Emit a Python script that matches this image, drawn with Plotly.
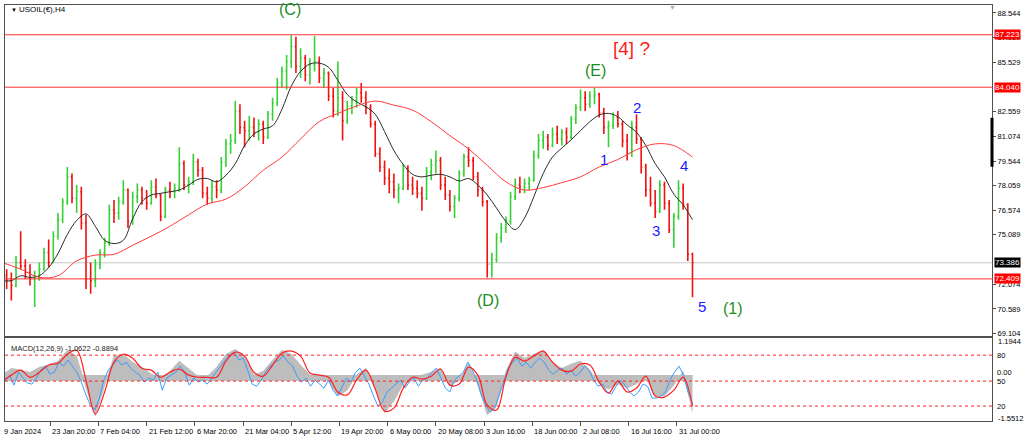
import numpy as np
import plotly.graph_objects as go

# ---------------- DATA ----------------
# daily bars, index 1..148 (trading-day index, 9 Jan 2024 = 0)
highs = [73.0, 72.8, 73.8, 75.3, 73.6, 73.3, 72.9, 73.4, 74.3, 74.8,
         75.3, 76.4, 77.3, 79.2, 78.8, 78.1, 78.0, 76.3, 73.4, 73.6,
         74.2, 74.9, 76.9, 77.2, 77.4, 78.4, 77.9, 77.7, 78.2, 78.0,
         77.8, 78.4, 78.5, 77.6, 78.0, 78.3, 78.2, 80.4, 79.6, 78.6,
         80.0, 79.7, 79.2, 78.0, 78.4, 78.4, 79.8, 80.9, 81.2, 83.2,
         83.0, 82.0, 82.3, 82.2, 82.1, 82.0, 82.6, 83.4, 84.6, 85.3,
         86.0, 87.2, 87.1, 86.4, 86.0, 85.8, 87.15, 85.9, 85.2, 85.0,
         84.0, 85.6, 83.8, 83.2, 83.5, 84.0, 84.3, 83.8, 83.0, 82.0,
         80.4, 79.6, 79.1, 78.8, 78.2, 79.4, 79.3, 78.6, 78.4, 78.0,
         79.2, 79.7, 80.2, 79.8, 78.6, 77.8, 77.5, 79.0, 80.0, 80.4,
         79.8, 78.9, 78.0, 77.2, 74.0, 75.2, 75.8, 76.2, 77.7, 78.5,
         78.6, 78.5, 78.6, 80.2, 81.2, 81.4, 81.2, 81.6, 81.7, 81.5,
         81.6, 82.3, 83.0, 83.9, 83.8, 83.8, 84.0, 83.7, 82.8, 82.0,
         82.5, 82.6, 82.0, 81.2, 82.0, 82.4, 81.0, 79.4, 78.6, 77.8,
         78.4, 78.3, 77.2, 76.4, 78.4, 78.2, 77.0, 74.0]
lows = [71.8, 71.1, 71.9, 73.0, 72.4, 72.0, 70.7, 72.3, 72.9, 73.1,
        73.4, 74.8, 75.8, 76.9, 77.0, 76.4, 75.4, 71.8, 71.5, 71.9,
        73.0, 73.7, 74.4, 75.8, 76.0, 76.9, 75.5, 75.7, 77.0, 76.9,
        76.6, 76.9, 77.3, 75.9, 76.1, 77.3, 77.3, 77.7, 77.8, 77.6,
        78.1, 78.6, 77.3, 76.9, 77.0, 77.3, 77.6, 79.2, 80.0, 80.6,
        81.2, 80.4, 80.8, 81.0, 80.8, 80.6, 80.9, 82.0, 82.9, 84.0,
        83.9, 85.2, 84.9, 84.6, 84.4, 84.2, 85.0, 84.3, 84.0, 83.2,
        82.2, 82.3, 80.8, 81.8, 82.4, 82.8, 83.1, 82.4, 81.6, 79.8,
        78.9, 78.1, 77.6, 77.3, 77.0, 77.8, 77.8, 77.5, 77.3, 76.55,
        77.2, 78.4, 78.8, 77.8, 77.2, 76.5, 76.1, 77.1, 78.6, 79.2,
        78.4, 77.4, 76.8, 72.5, 72.5, 73.4, 74.6, 75.2, 75.7, 77.2,
        77.6, 77.6, 77.8, 78.3, 79.7, 80.3, 80.2, 80.4, 80.6, 80.5,
        80.6, 80.9, 81.8, 82.6, 82.6, 82.8, 83.0, 82.2, 81.2, 80.4,
        81.5, 81.6, 80.4, 79.6, 79.8, 80.6, 78.8, 77.4, 76.8, 76.1,
        76.4, 76.6, 75.2, 74.3, 76.0, 76.6, 73.5, 71.3]
closes = [72.3, 72.0, 73.4, 73.2, 72.8, 72.4, 72.6, 73.0, 74.0, 73.4,
          75.0, 76.0, 77.1, 78.6, 77.3, 77.7, 75.8, 72.4, 72.3, 73.3,
          74.0, 74.6, 76.6, 76.4, 77.1, 77.8, 75.9, 77.4, 77.8, 77.3,
          77.0, 78.0, 77.5, 76.2, 77.8, 77.7, 77.9, 79.4, 78.1, 78.3,
          79.5, 79.0, 77.6, 77.3, 78.0, 77.8, 79.5, 80.6, 80.8, 82.6,
          81.6, 81.4, 81.6, 81.3, 81.8, 81.0, 82.4, 83.1, 84.3, 85.0,
          85.6, 86.5, 85.3, 85.8, 84.8, 85.4, 85.6, 84.6, 84.9, 83.5,
          82.6, 83.4, 82.0, 82.9, 83.2, 83.7, 83.4, 82.8, 81.8, 80.0,
          79.2, 78.5, 78.3, 77.8, 77.9, 79.1, 78.1, 77.9, 77.6, 77.3,
          78.9, 79.3, 79.6, 78.1, 77.5, 76.8, 77.3, 78.8, 79.8, 79.6,
          78.6, 77.8, 77.1, 73.3, 73.6, 74.9, 75.5, 75.9, 77.4, 78.1,
          78.0, 78.2, 78.4, 79.9, 80.8, 81.0, 80.5, 81.2, 80.9, 81.3,
          81.0, 82.1, 82.8, 83.4, 83.0, 83.5, 83.6, 82.5, 81.6, 81.7,
          82.2, 81.8, 80.8, 80.0, 81.6, 80.9, 79.2, 77.8, 77.0, 76.5,
          78.1, 77.0, 75.4, 76.2, 77.9, 76.9, 73.9, 73.386]
first_open = 72.6

# moving averages: fast (black) every 2 days, slow (red) every 4 days
ma_fast = [72.3, 72.3, 72.6, 72.5, 72.6, 73.1, 73.95, 75.1, 75.95, 76.35,
           75.6, 74.75, 74.55, 74.75, 76.05, 77.1, 77.5, 77.6, 77.7, 77.8,
           78.1, 78.45, 78.5, 78.3, 78.7, 79.4, 80.5, 81.2, 81.5, 81.7,
           82.7, 84.1, 85.0, 85.45, 85.5, 85.25, 84.45, 83.6, 83.15, 82.85,
           82.4, 81.35, 80.2, 79.35, 78.75, 78.6, 78.7, 78.75, 78.6, 78.35,
           78.5, 78.1, 77.5, 76.7, 75.9, 75.4, 76.1, 77.4, 78.8, 79.8,
           80.35, 80.85, 81.4, 81.95, 82.35, 82.45, 82.25, 81.75, 81.3, 80.5,
           79.4, 78.6, 77.55, 76.9, 76.0]
ma_slow = [73.4, 73.0, 72.5, 72.6, 73.5, 73.85, 73.9, 74.45, 75.0, 75.6,
           76.3, 76.95, 77.25, 78.0, 79.0, 79.8, 80.9, 81.95, 82.45, 82.9,
           83.2, 82.95, 82.65, 81.95, 81.1, 80.3, 79.3, 78.3, 77.8, 77.95,
           78.25, 78.6, 79.2, 79.65, 80.25, 80.6, 80.5, 79.8]

# MACD panel (every 2 days): histogram (grey) and signal (red)
macd_hist = [0.0, 0.26, 0.19, 0.11, 0.30, 0.38, 0.53, 0.94, 0.72, -0.49,
             -1.55, -0.38, 0.72, 0.79, 0.49, 0.30, 0.04, -0.11, 0.15, 0.53,
             0.23, -0.04, -0.04, 0.30, 0.79, 0.98, 0.72, 0.0, 0.15, 0.57,
             0.94, 0.79, 0.38, 0.0, -0.11, -0.23, -0.79, -0.57, 0.0, 0.26,
             -0.49, -1.43, -0.98, -0.34, -0.11, 0.0, 0.11, 0.26, -0.42, -0.19,
             0.45, -0.38, -1.51, -1.17, 0.15, 0.87, 0.64, 0.79, 0.94, 0.49,
             0.26, 0.42, 0.53, 0.19, -0.34, -0.53, -0.34, -0.49, -0.34, -0.08,
             -0.79, -0.79, -0.38, 0.15, -1.40]
macd_signal = [-0.23, 0.0, 0.19, -0.08, 0.11, 0.38, 0.45, 0.79, 0.94, -0.19,
               -1.47, -0.64, 0.49, 0.79, 0.64, 0.26, 0.19, -0.08, 0.11, 0.23,
               0.0, -0.08, -0.08, -0.08, 0.53, 0.87, 0.72, 0.11, -0.04, 0.38,
               0.83, 0.91, 0.72, 0.08, 0.0, -0.08, -0.64, -0.75, -0.19, 0.19,
               -0.53, -1.36, -1.25, -0.49, -0.08, -0.15, -0.04, 0.23, -0.38, -0.34,
               0.30, 0.0, -1.13, -1.32, -0.08, 0.68, 0.53, 0.72, 0.91, 0.49,
               0.19, 0.15, 0.42, 0.38, -0.26, -0.68, -0.23, -0.64, -0.49, -0.04,
               -0.79, -0.83, -0.57, -0.08, -1.17]
macd_blue = [-0.23, 0.0, -0.38, 0.11, -0.11, -0.30, -0.34, -0.11, 0.19, 0.34,
             0.04, 0.11, 0.49, 0.34, 0.57, 0.34, 0.11, -0.26, -0.75, -1.13,
             -1.32, -0.87, -0.19, 0.19, 0.38, 0.57, 0.38, 0.49, 0.26, 0.11,
             0.0, -0.26, -0.11, -0.19, 0.11, -0.57, -0.11, 0.0, 0.11, 0.34,
             0.11, -0.38, -0.11, -0.26, -0.19, -0.34, -0.11, 0.15, 0.34, 0.57,
             0.75, 0.87, 0.57, 0.64, 0.19, -0.34, -0.42, -0.19, 0.11, 0.34,
             0.49, 0.57, 0.72, 0.49, 0.34, -0.04, -0.26, -0.11, -0.42, -0.19,
             -0.34, -0.49, -0.19, -0.57, -0.79, -0.42, -0.11, -0.26, 0.11, 0.26,
             -0.04, -0.34, -0.79, -1.17, -1.02, -0.64, -0.49, -0.34, -0.19, -0.49,
             -0.26, -0.11, -0.42, -0.19, -0.11, 0.11, 0.26, -0.11, -0.49, -0.64,
             -0.19, -0.04, 0.11, 0.49, 0.19, -0.19, -0.75, -1.13, -1.40, -1.25,
             -0.75, -0.19, 0.26, 0.49, 0.64, 0.34, 0.49, 0.26, 0.49, 0.64,
             0.49, 0.19, 0.04, 0.19, 0.26, 0.04, 0.19, -0.04, 0.11, 0.34,
             0.19, -0.19, -0.42, -0.34, -0.64, -0.72, -0.42, -0.19, -0.38, -0.64,
             -0.79, -0.64, -0.34, -0.42, -0.87, -0.87, -0.79, -0.64, -0.19, 0.11,
             0.34, 0.0, -0.64, -1.09]
macd_levels = {"80": 0.755, "50": -0.226, "20": -1.17}

# horizontal levels
red_levels = [87.223, 84.040, 72.409]
last_price = 73.386

# axis labels (those fully covered by the level boxes are omitted)
price_ticks = [88.544, 87.059, 85.529, 82.559, 81.074, 79.544, 78.059,
               76.574, 75.089, 72.074, 70.589, 69.104]
date_labels = ["9 Jan 2024", "23 Jan 20:00", "7 Feb 04:00", "21 Feb 12:00",
               "6 Mar 20:00", "21 Mar 04:00", "5 Apr 12:00", "19 Apr 20:00",
               "6 May 00:00", "20 May 08:00", "3 Jun 16:00", "18 Jun 00:00",
               "2 Jul 08:00", "16 Jul 16:00", "31 Jul 00:00"]
date_tick_days = [k * 62 / 6 for k in range(len(date_labels))]

# wave labels: (text, day, price, colour, size)
GREEN = "#1e8c1e"
BLUE = "#1a1aff"
RED = "#ff1a1a"
wave_labels = [("(C)", 61.8, 88.75, GREEN, 16), ("(E)", 127.3, 85.03, GREEN, 16),
               ("(D)", 104.2, 71.11, GREEN, 16), ("(1)", 156.6, 70.63, GREEN, 16),
               ("[4] ?", 135.0, 86.37, RED, 19),
               ("1", 129.0, 79.64, BLUE, 15), ("2", 136.0, 82.79, BLUE, 15),
               ("3", 140.1, 75.35, BLUE, 15), ("4", 146.1, 79.28, BLUE, 15),
               ("5", 150.0, 70.75, BLUE, 15)]

# ---------------- FIGURE ----------------
days = list(range(1, len(closes) + 1))
opens = [first_open] + closes[:-1]
hi = [max(h, o, c) for h, o, c in zip(highs, opens, closes)]
lo = [min(l, o, c) for l, o, c in zip(lows, opens, closes)]

X_RANGE = [0.64, 212.2]
fig = go.Figure()

fig.add_trace(go.Ohlc(
    x=days, open=opens, high=hi, low=lo, close=closes,
    increasing=dict(line=dict(color="#35d035", width=1.6)),
    decreasing=dict(line=dict(color="#f01010", width=1.6)),
    tickwidth=0.25, xaxis="x", yaxis="y", showlegend=False, hoverinfo="skip"))

fig.add_trace(go.Scatter(x=[2 * i for i in range(len(ma_fast))], y=ma_fast,
                         mode="lines", line=dict(color="#2b2b2b", width=1, shape="spline"),
                         xaxis="x", yaxis="y", showlegend=False, hoverinfo="skip"))
fig.add_trace(go.Scatter(x=[4 * i for i in range(len(ma_slow))], y=ma_slow,
                         mode="lines", line=dict(color="#ff3b3b", width=1, shape="spline"),
                         xaxis="x", yaxis="y", showlegend=False, hoverinfo="skip"))

# MACD panel
fig.add_trace(go.Scatter(x=[2 * i for i in range(len(macd_hist))], y=macd_hist,
                         mode="lines", line=dict(color="#b4b4b4", width=0.5),
                         fill="tozeroy", fillcolor="#bdbdbd",
                         xaxis="x2", yaxis="y2", showlegend=False, hoverinfo="skip"))
fig.add_trace(go.Scatter(x=list(np.linspace(0.64, 148, len(macd_blue))), y=macd_blue,
                         mode="lines", line=dict(color="#3a9bff", width=1),
                         xaxis="x2", yaxis="y2", showlegend=False, hoverinfo="skip"))
fig.add_trace(go.Scatter(x=[2 * i for i in range(len(macd_signal))], y=macd_signal,
                         mode="lines", line=dict(color="#ff2020", width=1.2, shape="spline"),
                         xaxis="x2", yaxis="y2", showlegend=False, hoverinfo="skip"))

shapes = []
for lv in red_levels:
    shapes.append(dict(type="line", xref="x domain", x0=0, x1=1, yref="y", y0=lv, y1=lv,
                       line=dict(color="#ff3030", width=1), layer="above"))
shapes.append(dict(type="line", xref="x domain", x0=0, x1=1, yref="y", y0=last_price,
                   y1=last_price, line=dict(color="#c8c8c8", width=1), layer="below"))
# grey band between zero and the 50 level
shapes.append(dict(type="rect", xref="x2", x0=X_RANGE[0], x1=148, yref="y2",
                   y0=macd_levels["50"], y1=0, fillcolor="#bdbdbd", line=dict(width=0),
                   layer="below"))
for name, lv in macd_levels.items():
    shapes.append(dict(type="line", xref="x2 domain", x0=0, x1=1, yref="y2", y0=lv, y1=lv,
                       line=dict(color="#ff2020", width=1, dash="dot"), layer="above"))
# scroll marker on right axis
shapes.append(dict(type="line", xref="paper", x0=1.0, x1=1.0, yref="y", y0=79.22, y1=82.19,
                   line=dict(color="black", width=3)))

FONT = "Liberation Sans, Arial, sans-serif"
ann = []
ann.append(dict(text="▼", xref="paper", yref="paper", x=0.004, y=0.988, showarrow=False,
                xanchor="left", yanchor="middle", font=dict(size=6, color="black", family=FONT)))
ann.append(dict(text="USOIL(€),H4", xref="paper", yref="paper", x=0.012, y=0.988, showarrow=False,
                xanchor="left", yanchor="middle", font=dict(size=8, color="black", family=FONT)))
ann.append(dict(text="▼", xref="paper", yref="paper", x=0.676, y=1.0, yshift=-2, showarrow=False,
                xanchor="center", yanchor="middle", font=dict(size=7, color="#b0b0b0", family=FONT)))
ann.append(dict(text="MACD(12,26,9) -1.0622 -0.8894", xref="paper", yref="y2 domain", x=0.004,
                y=0.88, showarrow=False, xanchor="left", yanchor="middle",
                font=dict(size=7.5, color="#222", family=FONT)))

for lv in red_levels:
    ann.append(dict(text="%.3f" % lv, xref="paper", yref="y", x=1.0, y=lv, xshift=2,
                    showarrow=False, xanchor="left", yanchor="middle", bgcolor="#ff0000",
                    borderpad=0, font=dict(size=8, color="white", family=FONT)))
ann.append(dict(text="%.3f" % last_price, xref="paper", yref="y", x=1.0, y=last_price, xshift=2,
                showarrow=False, xanchor="left", yanchor="middle", bgcolor="#000000",
                borderpad=0, font=dict(size=8, color="white", family=FONT)))

# MACD right labels
ann.append(dict(text="1.1944", xref="paper", yref="y2 domain", x=1.0, y=0.96, xshift=4,
                showarrow=False, xanchor="left", yanchor="middle",
                font=dict(size=7.5, color="black", family=FONT)))
ann.append(dict(text="-1.5512", xref="paper", yref="y2 domain", x=1.0, y=0.03, xshift=4,
                showarrow=False, xanchor="left", yanchor="middle",
                font=dict(size=7.5, color="black", family=FONT)))
ann.append(dict(text="0.00", xref="paper", yref="y2", x=1.0, y=0.0, xshift=3, yshift=3,
                showarrow=False, xanchor="left", yanchor="middle",
                font=dict(size=7.5, color="black", family=FONT)))
for name, lv in macd_levels.items():
    ann.append(dict(text=name, xref="paper", yref="y2", x=1.0, y=lv, xshift=3,
                    showarrow=False, xanchor="left", yanchor="middle",
                    font=dict(size=7.5, color="black", family=FONT)))

span = X_RANGE[1] - X_RANGE[0]
for d, lab in zip(date_tick_days, date_labels):
    ann.append(dict(text=lab, xref="paper", yref="paper", x=(d - X_RANGE[0]) / span, y=0,
                    xshift=0, yshift=-10, showarrow=False, xanchor="left", yanchor="middle",
                    font=dict(size=7.5, color="black", family=FONT)))

for txt, d, p, col, sz in wave_labels:
    ann.append(dict(text=txt, xref="x", yref="y", x=d, y=p, showarrow=False,
                    xanchor="center", yanchor="middle",
                    font=dict(size=sz, color=col, family="Liberation Sans, Arial, sans-serif")))

fig.update_layout(
    width=1024, height=441,
    margin=dict(l=4, r=31, t=4, b=20),
    paper_bgcolor="white", plot_bgcolor="white",
    showlegend=False,
    xaxis=dict(domain=[0, 1], anchor="y", range=X_RANGE, showgrid=False, zeroline=False,
               showticklabels=False, ticks="", showline=True, mirror=True,
               linecolor="#505050", linewidth=1, rangeslider=dict(visible=False), fixedrange=True),
    xaxis2=dict(domain=[0, 1], anchor="y2", range=X_RANGE, matches="x", showgrid=False,
                zeroline=False, showticklabels=False, ticks="outside", ticklen=4,
                tickcolor="#505050", tickvals=date_tick_days, showline=True, mirror=True,
                linecolor="#505050", linewidth=1),
    yaxis=dict(domain=[0.2038, 1], anchor="x", side="right", range=[68.93, 89.028],
               showgrid=False, zeroline=False, tickvals=price_ticks,
               ticktext=["%.3f" % v for v in price_ticks], ticks="outside", ticklen=3,
               tickcolor="#505050", tickfont=dict(size=7.5, color="black", family=FONT),
               showline=True, mirror=True, linecolor="#505050", linewidth=1),
    yaxis2=dict(domain=[0, 0.199], anchor="x2", side="right", range=[-1.736, 1.396],
                showgrid=False, zeroline=False, showticklabels=False, ticks="",
                showline=True, mirror=True, linecolor="#505050", linewidth=1),
    shapes=shapes, annotations=ann,
)

fig.write_html("out.html", config={"displayModeBar": False},
               post_script="document.body.style.margin='0';document.body.style.padding='0';")
